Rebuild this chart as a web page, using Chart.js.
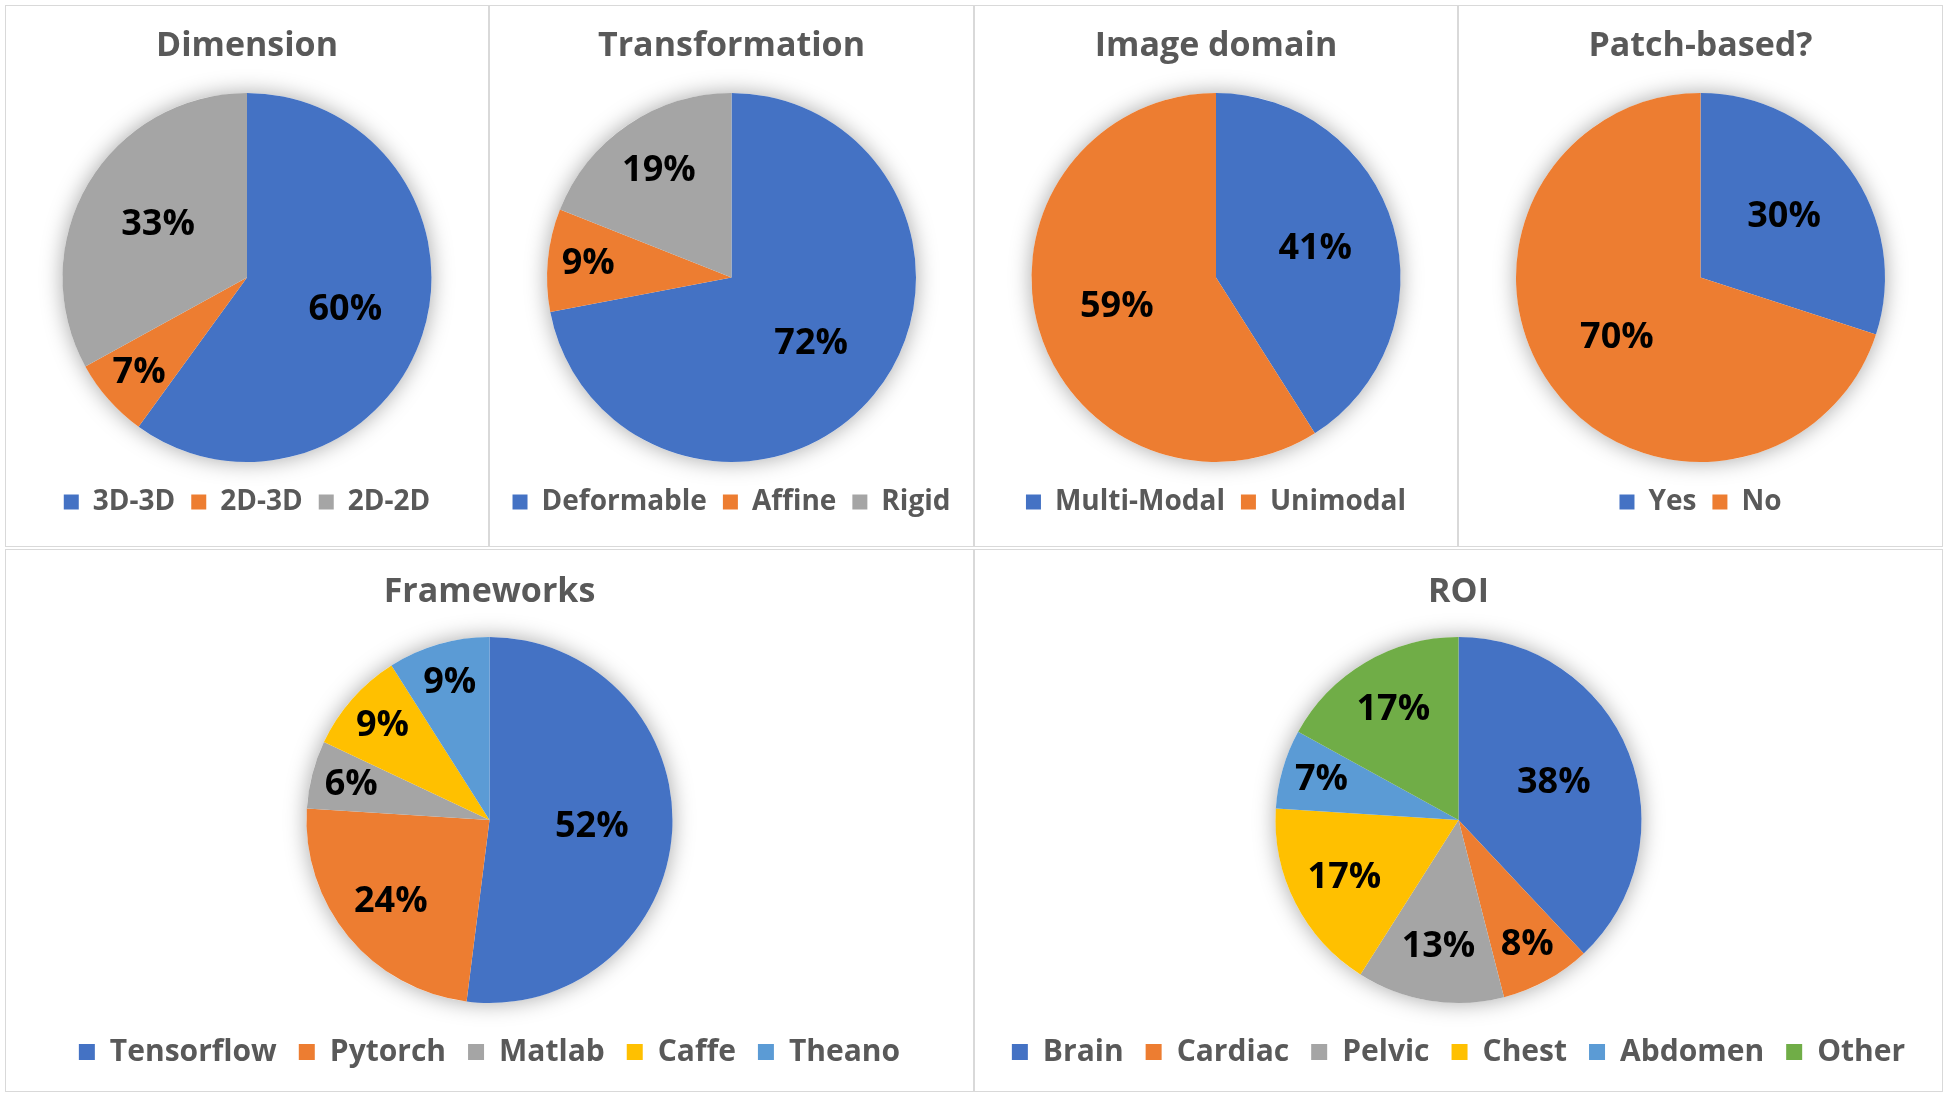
<!DOCTYPE html>
<html>
<head>
<meta charset="utf-8">
<script src="https://cdn.jsdelivr.net/npm/chart.js@4.4.0/dist/chart.umd.min.js"></script>
<style>
    html, body { margin: 0; padding: 0; background: #fff; }
    body { width: 1950px; height: 1099px; position: relative; overflow: hidden; }
    .panel { position: absolute; box-sizing: border-box; border: 1px solid #d9d9d9; }
    canvas { position: absolute; }
</style>
</head>
<body>
<script>
// ---- data ----
const dimensionLabels = ['3D-3D', '2D-3D', '2D-2D'];
const dimensionValues = [60, 7, 33];

const transformLabels = ['Deformable', 'Affine', 'Rigid'];
const transformValues = [72, 9, 19];

const domainLabels = ['Multi-Modal', 'Unimodal'];
const domainValues = [41, 59];

const patchLabels = ['Yes', 'No'];
const patchValues = [30, 70];

const frameworkLabels = ['Tensorflow', 'Pytorch', 'Matlab', 'Caffe', 'Theano'];
const frameworkValues = [52, 24, 6, 9, 9];

const roiLabels = ['Brain', 'Cardiac', 'Pelvic', 'Chest', 'Abdomen', 'Other'];
const roiValues = [38, 8, 13, 17, 7, 17];

// Office palette
const COLORS = ['#4472C4', '#ED7D31', '#A5A5A5', '#FFC000', '#5B9BD5', '#70AD47'];
const TEXT_GRAY = '#595959';

Chart.defaults.font.family = "'Open Sans', sans-serif";

// Soft shadow behind the whole pie (drawn once, under the slices)
const pieShadow = {
    id: 'pieShadow',
    beforeDatasetsDraw(chart) {
        const arc = chart.getDatasetMeta(0).data[0];
        if (!arc) return;
        const p = arc.getProps(['x', 'y', 'outerRadius'], true);
        const ctx = chart.ctx;
        ctx.save();
        ctx.shadowColor = 'rgba(0, 0, 0, 0.35)';
        ctx.shadowBlur = 22;
        ctx.fillStyle = '#fff';
        ctx.beginPath();
        ctx.arc(p.x, p.y, p.outerRadius, 0, Math.PI * 2);
        ctx.fill();
        ctx.restore();
    }
};

// Percentage labels inside each slice
const sliceLabels = {
    id: 'sliceLabels',
    afterDatasetsDraw(chart) {
        const ctx = chart.ctx;
        const values = chart.data.datasets[0].data;
        const total = values.reduce((a, b) => a + b, 0);
        ctx.save();
        ctx.font = "bold 36px 'Open Sans', sans-serif";
        ctx.fillStyle = '#000';
        ctx.textAlign = 'center';
        ctx.textBaseline = 'middle';
        chart.getDatasetMeta(0).data.forEach((arc, i) => {
            const p = arc.getProps(['x', 'y', 'startAngle', 'endAngle', 'outerRadius'], true);
            const mid = (p.startAngle + p.endAngle) / 2;
            const pct = values[i] / total * 100;
            // small slices get their label pushed further out, like Excel's best fit
            const frac = pct < 10 ? 0.78 : (pct < 30 ? 0.70 : 0.56);
            const r = p.outerRadius * frac;
            ctx.fillText(Math.round(pct) + '%', p.x + Math.cos(mid) * r, p.y + Math.sin(mid) * r);
        });
        ctx.restore();
    }
};

// panel boxes on the page
const panels = [
    { title: 'Dimension',      labels: dimensionLabels, values: dimensionValues, x: 5,   y: 5,   w: 484, h: 542, row: 'top' },
    { title: 'Transformation', labels: transformLabels, values: transformValues, x: 489, y: 5,   w: 485, h: 542, row: 'top' },
    { title: 'Image domain',   labels: domainLabels,    values: domainValues,    x: 974, y: 5,   w: 484, h: 542, row: 'top' },
    { title: 'Patch-based?',   labels: patchLabels,     values: patchValues,     x: 1458, y: 5,  w: 485, h: 542, row: 'top' },
    { title: 'Frameworks',     labels: frameworkLabels, values: frameworkValues, x: 5,   y: 549, w: 969, h: 543, row: 'bottom' },
    { title: 'ROI',            labels: roiLabels,       values: roiValues,       x: 974, y: 549, w: 969, h: 543, row: 'bottom' }
];

// spacing per row so the pie and legend land where they sit in the figure
const rowLayout = {
    top:    { titleTop: 21, titleBottom: 26.2, legendSize: 28, legendGap: 16, box: 15, legendShift: 4, padBottom: 21 },
    bottom: { titleTop: 23, titleBottom: 24.2, legendSize: 30, legendGap: 22, box: 16, legendShift: 6, padBottom: 15 }
};

panels.forEach((panel, idx) => {
    const frame = document.createElement('div');
    frame.className = 'panel';
    frame.style.left = panel.x + 'px';
    frame.style.top = panel.y + 'px';
    frame.style.width = panel.w + 'px';
    frame.style.height = panel.h + 'px';
    document.body.appendChild(frame);

    const canvas = document.createElement('canvas');
    canvas.id = 'pie' + idx;
    canvas.width = panel.w;
    canvas.height = panel.h;
    canvas.style.left = panel.x + 'px';
    canvas.style.top = panel.y + 'px';
    canvas.style.width = panel.w + 'px';
    canvas.style.height = panel.h + 'px';
    document.body.appendChild(canvas);

    const lay = rowLayout[panel.row];

    new Chart(canvas.getContext('2d'), {
        type: 'pie',
        data: {
            labels: panel.labels,
            datasets: [{
                data: panel.values,
                backgroundColor: COLORS.slice(0, panel.values.length),
                borderWidth: 0
            }]
        },
        options: {
            responsive: false,
            animation: false,
            layout: { padding: { top: 0, left: 0, right: 0, bottom: lay.padBottom } },
            plugins: {
                title: {
                    display: true,
                    text: panel.title,
                    color: TEXT_GRAY,
                    font: { size: 34, weight: 'bold' },
                    padding: { top: lay.titleTop, bottom: lay.titleBottom }
                },
                legend: {
                    position: 'bottom',
                    title: {
                        display: true,
                        text: '',
                        font: { size: 5 },
                        padding: { top: lay.legendShift, bottom: 0 }
                    },
                    labels: {
                        color: TEXT_GRAY,
                        font: { size: lay.legendSize, weight: 'bold' },
                        boxWidth: lay.box,
                        boxHeight: lay.box,
                        padding: lay.legendGap
                    }
                },
                tooltip: { enabled: false }
            }
        },
        plugins: [pieShadow, sliceLabels]
    });
});
</script>
</body>
</html>
